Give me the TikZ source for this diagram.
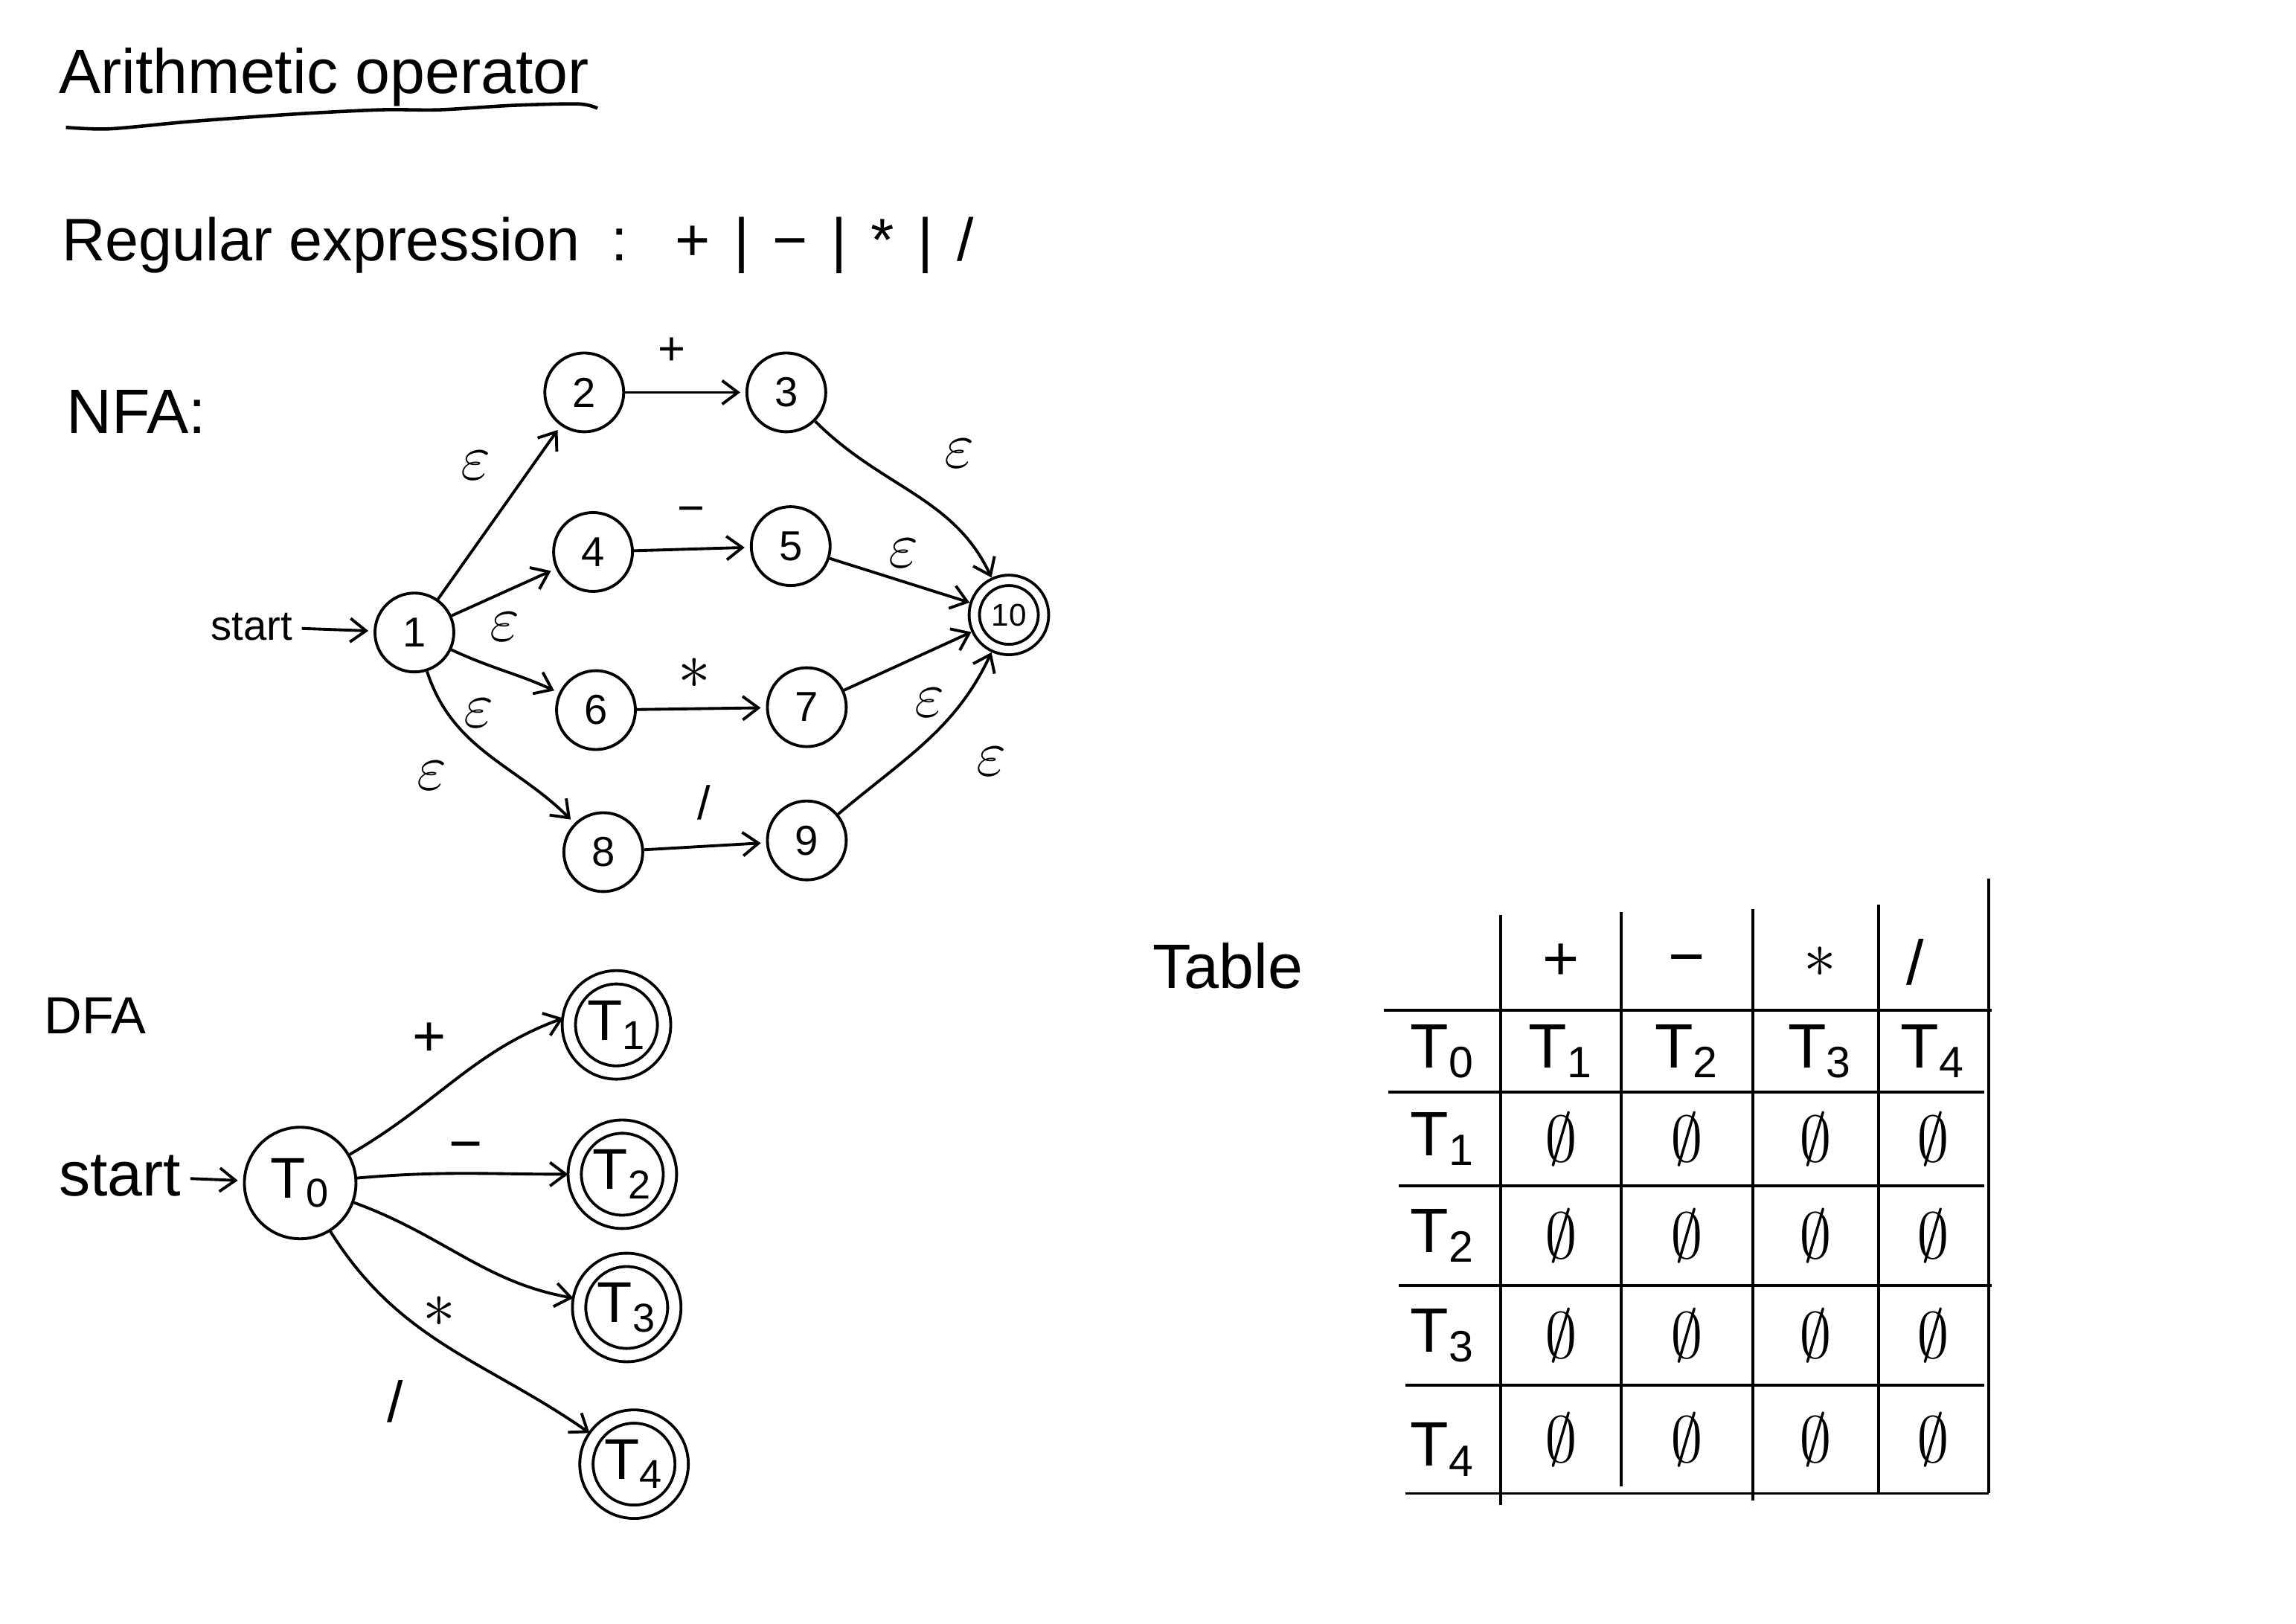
\documentclass[tikz,border=0pt]{standalone}
\usepackage{fontspec}
\setmainfont{Liberation Sans}
\usetikzlibrary{positioning,arrows.meta}

\begin{document}
\begin{tikzpicture}[
  x=0.01968cm, y=-0.01968cm,
  heading/.style={anchor=base west, inner sep=0pt, font=\fontsize{24}{28}\selectfont},
  state/.style={circle, draw, line width=1.1pt, minimum size=1.06cm, inner sep=0pt, font=\fontsize{16}{18}\selectfont},
  accept/.style={state, double, double distance=0.1cm, minimum size=0.93cm, font=\fontsize{12}{14}\selectfont},
  bigstate/.style={state, minimum size=1.5cm, font=\fontsize{22}{24}\selectfont},
  bigaccept/.style={bigstate, double, double distance=0.14cm, minimum size=1.28cm},
  trans/.style={-{Straight Barb[length=6pt, width=9pt]}, line width=1.1pt, shorten >=2pt},
  lbl/.style={font=\fontsize{18}{20}\selectfont, inner sep=1pt},
  eps/.style={font=\fontsize{28}{30}\selectfont, inner sep=1pt},
  dlbl/.style={font=\fontsize{22}{24}\selectfont, inner sep=1pt},
  cell/.style={font=\fontsize{24}{26}\selectfont, inner sep=0pt},
  tableline/.style={line width=1.1pt}
]
\useasboundingbox (0,0) rectangle (1568,1109);

% Headings
\node[heading] (Title) at (40,64) {Arithmetic operator};
\draw[line width=1.3pt] plot[smooth] coordinates {(45,87) (75,88) (130,83) (200,78) (260,75) (300,75) (350,72) (395,71) (408,74)};
\node[heading, font=\fontsize{23}{28}\selectfont] (RegEx) at (42,178) {Regular expression\kern12pt:\kern18pt+\kern9pt|\kern9pt−\kern9pt|\kern9pt*\kern9pt|\kern9pt/};
\node[heading] (NFALabel) at (45,296) {NFA:};

% NFA states
\node[state] (N1) at (283,432) {1};
\node[state] (N2) at (399,268) {2};
\node[state] (N3) at (537,268) {3};
\node[state] (N4) at (405,377) {4};
\node[state] (N5) at (540,373) {5};
\node[state] (N6) at (407,485) {6};
\node[state] (N7) at (551,483) {7};
\node[state] (N8) at (412,582) {8};
\node[state] (N9) at (551,574) {9};
\node[accept] (N10) at (689,420) {10};
\node[font=\fontsize{16}{18}\selectfont] (StartNFA) at (172,428) {start};

% NFA labels
\node[eps] (E12) at (325,318) {$\varepsilon$};
\node[eps] (E14) at (345,428) {$\varepsilon$};
\node[eps] (E16) at (327,487) {$\varepsilon$};
\node[eps] (E18) at (295,530) {$\varepsilon$};
\node[lbl] (Plus23) at (459,240) {+};
\node[lbl] (Minus45) at (472,352) {−};
\node[lbl, font=\fontsize{26}{28}\selectfont] (Star67) at (474,460) {$\ast$};
\node[lbl] (Slash89) at (481,548) {/};
\node[eps] (E310) at (655,310) {$\varepsilon$};
\node[eps] (E510) at (617,378) {$\varepsilon$};
\node[eps] (E710) at (635,480) {$\varepsilon$};
\node[eps] (E910) at (677,520) {$\varepsilon$};

% NFA transitions
\draw[trans] (StartNFA) -- (N1);
\draw[trans] (N1) -- (N2);
\draw[trans] (N1) -- (N4);
\draw[trans] (N1) to[out=-25, in=155] (N6);
\draw[trans] (N1) to[out=-72, in=135] (N8);
\draw[trans] (N2) -- (N3);
\draw[trans] (N4) -- (N5);
\draw[trans] (N6) -- (N7);
\draw[trans] (N8) -- (N9);
\draw[trans] (N3) to[out=-45, in=115] (N10);
\draw[trans] (N5) -- (N10);
\draw[trans] (N7) -- (N10);
\draw[trans] (N9) to[out=40, in=-115] (N10);

% DFA
\node[heading, font=\fontsize{20}{24}\selectfont] (DFALabel) at (30,706) {DFA};
\node[bigstate] (T0) at (205,808) {T\textsubscript{0}};
\node[bigaccept] (T1) at (421,700) {T\textsubscript{1}};
\node[bigaccept] (T2) at (425,802) {T\textsubscript{2}};
\node[bigaccept] (T3) at (428,893) {T\textsubscript{3}};
\node[bigaccept] (T4) at (433,1000) {T\textsubscript{4}};
\node[font=\fontsize{24}{26}\selectfont] (StartDFA) at (82,803) {start};

\node[dlbl] (PlusT1) at (293,710) {+};
\node[dlbl] (MinusT2) at (318,787) {−};
\node[dlbl, font=\fontsize{30}{32}\selectfont] (StarT3) at (300,896) {$\ast$};
\node[dlbl] (SlashT4) at (270,957) {/};

\draw[trans] (StartDFA) -- (T0);
\draw[trans] (T0) to[out=30, in=200] (T1.170);
\draw[trans] (T0) to[out=5, in=180] (T2);
\draw[trans] (T0) to[out=-20, in=170] (T3);
\draw[trans] (T0) to[out=-58, in=145] (T4);

% Table
\node[heading] (TableLabel) at (787,675) {Table};
\draw[tableline] (1025,625) -- (1025,1028);
\draw[tableline] (1107,623) -- (1107,1015);
\draw[tableline] (1197,621) -- (1197,1025);
\draw[tableline] (1283,618) -- (1283,1020);
\draw[tableline] (1358,600) -- (1358,1020);
\draw[tableline] (945,690) -- (1360,690);
\draw[tableline] (948,746) -- (1355,746);
\draw[tableline] (955,810) -- (1355,810);
\draw[tableline] (955,878) -- (1360,878);
\draw[tableline] (960,946) -- (1355,946);
\draw[tableline] (960,1020) -- (1358,1020);

\node[cell] (HeadPlus) at (1066,657) {+};
\node[cell] (HeadMinus) at (1152,660) {−};
\node[cell, font=\fontsize{30}{32}\selectfont] (HeadStar) at (1243,657) {$\ast$};
\node[cell] (HeadSlash) at (1308,657) {/};

\node[cell] (RowT0) at (985,718) {T\textsubscript{0}};
\node[cell] (RowT1) at (985,778) {T\textsubscript{1}};
\node[cell] (RowT2) at (985,844) {T\textsubscript{2}};
\node[cell] (RowT3) at (985,912) {T\textsubscript{3}};
\node[cell] (RowT4) at (985,990) {T\textsubscript{4}};

\node[cell] (T0Plus) at (1066,718) {T\textsubscript{1}};
\node[cell] (T0Minus) at (1152,718) {T\textsubscript{2}};
\node[cell] (T0Star) at (1243,718) {T\textsubscript{3}};
\node[cell] (T0Slash) at (1320,718) {T\textsubscript{4}};

\node[cell] (T1Plus) at (1066,778) {$\emptyset$};
\node[cell] (T1Minus) at (1152,778) {$\emptyset$};
\node[cell] (T1Star) at (1240,778) {$\emptyset$};
\node[cell] (T1Slash) at (1320,778) {$\emptyset$};
\node[cell] (T2Plus) at (1066,844) {$\emptyset$};
\node[cell] (T2Minus) at (1152,844) {$\emptyset$};
\node[cell] (T2Star) at (1240,844) {$\emptyset$};
\node[cell] (T2Slash) at (1320,844) {$\emptyset$};
\node[cell] (T3Plus) at (1066,912) {$\emptyset$};
\node[cell] (T3Minus) at (1152,912) {$\emptyset$};
\node[cell] (T3Star) at (1240,912) {$\emptyset$};
\node[cell] (T3Slash) at (1320,912) {$\emptyset$};
\node[cell] (T4Plus) at (1066,983) {$\emptyset$};
\node[cell] (T4Minus) at (1152,983) {$\emptyset$};
\node[cell] (T4Star) at (1240,983) {$\emptyset$};
\node[cell] (T4Slash) at (1320,983) {$\emptyset$};

\end{tikzpicture}
\end{document}
